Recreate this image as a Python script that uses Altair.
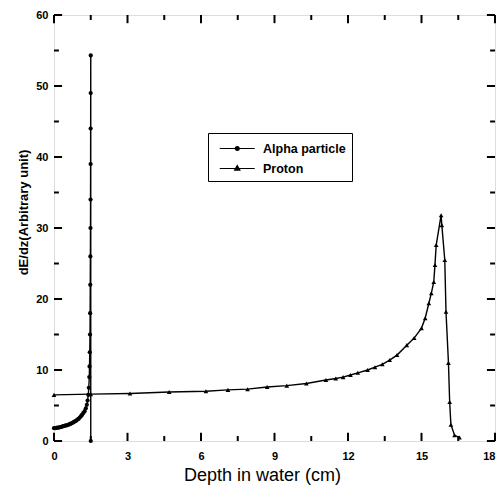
import altair as alt
import pandas as pd

# ---- data ----
alpha_x = [0.0, 0.05, 0.1, 0.15, 0.2, 0.25, 0.3, 0.35, 0.4, 0.45, 0.5, 0.55, 0.6, 0.65,
           0.7, 0.75, 0.8, 0.85, 0.9, 0.95, 1.0, 1.05, 1.1, 1.15, 1.2, 1.25, 1.3,
           1.34, 1.37, 1.4, 1.42, 1.44, 1.45, 1.46, 1.47, 1.475, 1.48, 1.485, 1.49,
           1.492, 1.494, 1.496, 1.498, 1.5, 1.5]
alpha_y = [1.8, 1.82, 1.85, 1.88, 1.9, 1.95, 2.0, 2.05, 2.1, 2.15, 2.2, 2.25, 2.3, 2.4,
           2.45, 2.55, 2.65, 2.75, 2.85, 3.0, 3.1, 3.3, 3.5, 3.7, 3.95, 4.2, 4.6,
           5.1, 5.7, 6.5, 7.5, 9.0, 10.5, 12.5, 15, 18, 22, 26, 30,
           34, 39, 44, 49, 54.3, 0.0]

proton_x = [0, 1.5, 3.1, 4.7, 6.2, 7.1, 7.9, 8.7, 9.5, 10.3, 11.1, 11.5, 11.8, 12.1,
            12.4, 12.8, 13.1, 13.4, 13.7, 14.0, 14.4, 14.7, 15.0, 15.15, 15.3, 15.4,
            15.5, 15.55, 15.6, 15.8, 15.83, 15.95, 16.0, 16.1, 16.15, 16.2, 16.35, 16.55]
proton_y = [6.5, 6.6, 6.7, 6.9, 7.0, 7.2, 7.3, 7.6, 7.8, 8.1, 8.6, 8.8, 9.0, 9.3,
            9.6, 10.0, 10.4, 10.8, 11.4, 12.1, 13.5, 14.5, 15.9, 17.3, 19.4, 20.8,
            22.4, 24.8, 27.6, 31.8, 30.4, 25.5, 18.2, 11.0, 5.5, 2.3, 0.8, 0.5]

series_names = ["Alpha particle", "Proton"]
x_major = [0, 3, 6, 9, 12, 15, 18]
x_minor = [1.5, 4.5, 7.5, 10.5, 13.5, 16.5]
y_major = [0, 10, 20, 30, 40, 50, 60]
y_minor = [5, 15, 25, 35, 45, 55]

W, H = 441, 426
FONT = "Liberation Sans"

alpha_df = pd.DataFrame({"x": alpha_x, "y": alpha_y, "i": range(len(alpha_x))})
proton_df = pd.DataFrame({"x": proton_x, "y": proton_y, "i": range(len(proton_x))})
legend_df = pd.DataFrame({"series": series_names, "x": [0, 0], "y": [0, 0]})

xs = alt.Scale(domain=[0, 18], nice=False, zero=False)
ys = alt.Scale(domain=[0, 60], nice=False, zero=False)

xaxis = alt.Axis(values=x_major, ticks=False, domain=False, grid=False, labelPadding=9,
                 labelFont=FONT, labelFontWeight="bold", labelFontSize=11, labelColor="black",
                 labelAlign={"condition": {"test": "datum.value == 18", "value": "right"},
                             "value": "center"},
                 title="Depth in water (cm)", titleFont=FONT, titleFontSize=18,
                 titleFontWeight="normal", titleColor="black", titlePadding=5,
                 titleX=208, titleAlign="center", labelFlush=False)
yaxis = alt.Axis(values=y_major, ticks=False, domain=False, grid=False, labelPadding=6,
                 labelFont=FONT, labelFontWeight="bold", labelFontSize=11, labelColor="black",
                 title="dE/dz(Arbitrary unit)", titleFont=FONT, titleFontSize=13,
                 titleFontWeight="bold", titleColor="black", titlePadding=5,
                 titleY=197, titleAlign="center", labelFlush=False)


def series_layers(df, shape, size):
    base = alt.Chart(df)
    line = base.mark_line(color="black", strokeWidth=1.4).encode(
        x=alt.X("x:Q", scale=xs, axis=xaxis),
        y=alt.Y("y:Q", scale=ys, axis=yaxis),
        order="i:Q",
    )
    pts = base.mark_point(filled=True, color="black", opacity=1, shape=shape, size=size).encode(
        x=alt.X("x:Q", scale=xs), y=alt.Y("y:Q", scale=ys)
    )
    return [line, pts]


alpha_layers = series_layers(alpha_df, "circle", 18)
proton_layers = series_layers(proton_df, "triangle-up", 22)

# inward tick marks on all four sides (lengths in data units)
rows = []
for v in x_major:
    rows += [dict(tx=v, tx2=v, ty=0, ty2=1.15), dict(tx=v, tx2=v, ty=60, ty2=58.85)]
for v in x_minor:
    rows += [dict(tx=v, tx2=v, ty=0, ty2=0.7), dict(tx=v, tx2=v, ty=60, ty2=59.3)]
for v in y_major:
    rows += [dict(tx=0, tx2=0.33, ty=v, ty2=v), dict(tx=18, tx2=17.67, ty=v, ty2=v)]
for v in y_minor:
    rows += [dict(tx=0, tx2=0.2, ty=v, ty2=v), dict(tx=18, tx2=17.8, ty=v, ty2=v)]
tick_df = pd.DataFrame(rows)

tick_layer = alt.Chart(tick_df).mark_rule(color="black", strokeWidth=2, opacity=1).encode(
    x=alt.X("tx:Q", scale=xs),
    x2=alt.X2("tx2"),
    y=alt.Y("ty:Q", scale=ys),
    y2=alt.Y2("ty2"),
)


def ring(cx, r):
    return (f"M{cx + r},0A{r},{r},0,1,1,{cx - r},0"
            f"A{r},{r},0,1,1,{cx + r},0")


# legend symbols: a line with its marker; path units of 8.75 px, shifted right
alpha_sym = "M-1,0H3" + ring(1, 0.22) + ring(1, 0.14) + ring(1, 0.06)
proton_sym = ("M-1,0H3M1,-0.34L1.3,0.2L0.7,0.2Z"
              "M1,-0.18L1.16,0.1L0.84,0.1Z")

legend_layer = alt.Chart(legend_df).mark_point(
    opacity=0, filled=False, color="black", strokeWidth=1.2
).encode(
    x=alt.X("x:Q", scale=xs),
    y=alt.Y("y:Q", scale=ys),
    shape=alt.Shape(
        "series:N",
        scale=alt.Scale(domain=series_names, range=[alpha_sym, proton_sym]),
        legend=alt.Legend(
            title=None, orient="none", legendX=154, legendY=118,
            strokeColor="black", padding=6, symbolOffset=5, symbolSize=306,
            symbolFillColor="transparent", symbolStrokeColor="black", symbolStrokeWidth=1.2,
            symbolOpacity=1, labelFont=FONT, labelFontWeight="bold", labelFontSize=12.5,
            labelColor="black", labelOffset=25, rowPadding=4,
        ),
    ),
)

chart = alt.layer(tick_layer, *alpha_layers, *proton_layers, legend_layer).properties(
    width=W, height=H,
    autosize=alt.AutoSizeParams(type="none"),
    padding={"left": 46, "top": 7, "right": 1, "bottom": 44},
).configure_view(stroke="black", strokeWidth=2).configure(background="white")

chart.save("out.html", embed_options={"renderer": "svg", "actions": False})
